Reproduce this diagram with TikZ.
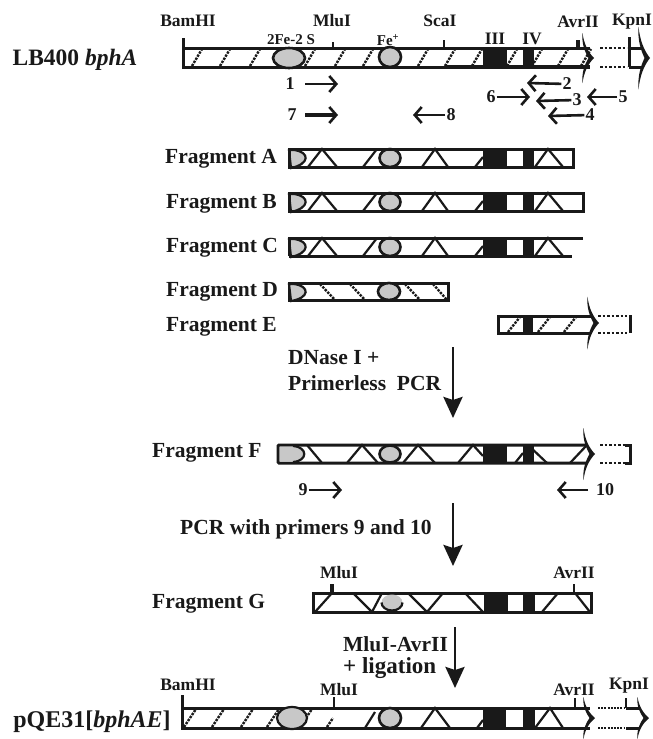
\documentclass[tikz,border=0pt]{standalone}
\usepackage{fontspec}
\setmainfont{Liberation Serif}
\usetikzlibrary{arrows.meta,positioning}
\definecolor{hemegray}{RGB}{200,200,200}
\definecolor{inkblack}{RGB}{25,25,25}
\tikzset{
  genetip/.pic={
    \fill[inkblack] (-2.5,-25) .. controls (-1,-14) and (3,-6) .. (9,0)
      .. controls (3,6) and (-1,14) .. (-2.5,25)
      .. controls (-3.5,14) and (0,6) .. (3.5,0)
      .. controls (0,-6) and (-3.5,-14) .. (-2.5,-25) -- cycle;
  }
}
\begin{document}
\begin{tikzpicture}[
    x=1pt, y=-1pt,
    fragname/.style={font=\fontsize{21.5}{23}\selectfont\bfseries, text=inkblack, inner sep=0pt},
    sitename/.style={font=\fontsize{17.5}{19}\selectfont\bfseries, text=inkblack, inner sep=0pt},
    stepname/.style={font=\fontsize{21.5}{23}\selectfont\bfseries, text=inkblack, inner sep=0pt},
    num/.style={font=\fontsize{18}{20}\selectfont\bfseries, text=inkblack, inner sep=1pt},
    barline/.style={line width=3pt, inkblack},
    site/.style={line width=2.2pt, inkblack},
    stroke/.style={line width=2.2pt, inkblack},
    hatch/.style={line width=2.4pt, inkblack, dash pattern=on 2.4pt off 1.2pt},
    dots/.style={line width=2.6pt, inkblack, dash pattern=on 2.5pt off 2pt},
    primer/.style={-{Straight Barb[length=7pt,width=16pt,line width=2.6pt]}, line width=2.6pt, inkblack},
    bigarrow/.style={-{Stealth[length=21pt,width=19pt,inset=3pt]}, line width=2.8pt, inkblack}
  ]
    \useasboundingbox (0,0) rectangle (653,739);

    % LB400 bphA
    \node[font=\fontsize{23.5}{25}\selectfont\bfseries, text=inkblack, inner sep=0pt] (lb) at (75,60) {LB400 \textit{bphA}};
    \foreach \x in {197,225,255,310,340,368,423,450,477,512,537,563,586}
      \draw[hatch] (\x-5,66) -- (\x+5,49);
    \draw[barline] (183,38) -- (183,67) -- (445,67);
    \draw[line width=3.8pt, inkblack] (445,67) -- (590,67);
    \draw[barline] (183,48) -- (590,48);
    \fill[inkblack] (483,48) rectangle (507,67);
    \fill[inkblack] (523,48) rectangle (534,67);
    \draw[stroke, fill=hemegray, line width=2.6pt] (289,58) ellipse (16 and 10);
    \draw[stroke, fill=hemegray, line width=2.6pt] (390,57) ellipse (11 and 10);
    \draw[site] (333,42) -- (333,48);
    \draw[site] (444,40) -- (444,48);
    \draw[line width=3.6pt, inkblack] (578,40) -- (578,48);
    \pic at (585,58) {genetip};
    \draw[dots] (600,48) -- (627,48);
    \draw[dots] (600,67) -- (627,67);
    \draw[barline] (629,37) -- (629,67);
    \draw[barline] (629,48) -- (642,48);
    \draw[barline] (629,67) -- (642,67);
    \pic[yscale=1.25] at (641,58) {genetip};

    \node[sitename] (bam) at (188,21) {BamHI};
    \node[sitename] (mlu) at (332,21) {MluI};
    \node[sitename] (sca) at (440,21) {ScaI};
    \node[sitename] (avr) at (578,22) {AvrII};
    \node[sitename] (kpn) at (632,22) {KpnI};
    \node[font=\fontsize{15}{17}\selectfont\bfseries, text=inkblack, inner sep=0pt] (fes) at (291,40) {2Fe-2 S};
    \node[font=\fontsize{15}{17}\selectfont\bfseries, text=inkblack, inner sep=0pt] (fe) at (388,40) {Fe\textsuperscript{+}};
    \node[sitename] (iii) at (495,39) {III};
    \node[sitename] (iv) at (532,39) {IV};

    % Primers
    \node[num] (n1) at (290,84) {1};
    \coordinate (a1) at (338,84);
    \draw[primer] (n1) ++(15,0) -- (a1);
    \node[num] (n7) at (292,115) {7};
    \coordinate (a7) at (338,115);
    \draw[primer, line width=3.2pt] (n7) ++(13,0) -- (a7);
    \node[num] (n8) at (451,115) {8};
    \coordinate (a8) at (413,115);
    \draw[primer] (n8) -- (a8);
    \node[num] (n2) at (567,84) {2};
    \coordinate (a2) at (527,83);
    \draw[primer] (n2) -- (a2);
    \node[num] (n6) at (491,97) {6};
    \coordinate (a6) at (530,97);
    \draw[primer] (n6) -- (a6);
    \node[num] (n3) at (577,100) {3};
    \coordinate (a3) at (536,101);
    \draw[primer] (n3) -- (a3);
    \node[num] (n5) at (623,97) {5};
    \coordinate (a5) at (587,97);
    \draw[primer] (n5) -- (a5);
    \node[num] (n4) at (590,115) {4};
    \coordinate (a4) at (548,116);
    \draw[primer] (n4) -- (a4);

    % Fragments A, B, C
    \node[fragname, anchor=west] (fa) at (165,159) {Fragment A};
    \node[fragname, anchor=west] (fb) at (166,204) {Fragment B};
    \node[fragname, anchor=west] (fc) at (166,248) {Fragment C};
    \foreach \t in {149,193,238} {
      \begin{scope}[shift={(0,\t)}]
        \fill[inkblack] (483,0) rectangle (507,18);
        \fill[inkblack] (523,0) rectangle (534,18);
        \draw[stroke, fill=hemegray] (289,1) -- (294,1) .. controls (310,3) and (310,15) .. (291,19) -- cycle;
        \draw[stroke] (308,18) -- (322,0) -- (337,18);
        \draw[stroke] (363,18) -- (377,0);
        \draw[stroke] (422,18) -- (435,0) -- (448,18);
        \draw[stroke] (475,18) -- (483,8);
        \draw[stroke] (535,18) -- (548,0) -- (563,18);
        \draw[stroke, fill=hemegray, line width=2.6pt] (390,9) ellipse (10.5 and 9);
      \end{scope}
    }
    \draw[barline] (289,149) rectangle (573,167);
    \draw[barline] (289,193) rectangle (583,211);
    \draw[barline] (289,256) -- (289,238) -- (583,238);
    \draw[barline] (289,256) -- (572,256);

    % Fragment D
    \node[fragname, anchor=west] (fd) at (166,292) {Fragment D};
    \foreach \a/\b in {320/335,350/365,405/420,433/447}
      \draw[hatch] (\a,284) -- (\b,300);
    \draw[barline] (289,283) rectangle (448,300);
    \draw[stroke, fill=hemegray] (289,284) -- (294,284) .. controls (310,286) and (310,298) .. (291,301) -- cycle;
    \draw[stroke, fill=hemegray, line width=2.6pt] (389,291.5) ellipse (11 and 8.5);

    % Fragment E
    \node[fragname, anchor=west] (fe2) at (166,327) {Fragment E};
    \foreach \x in {514,544,570}
      \draw[hatch] (\x-6,332) -- (\x+6,317);
    \draw[barline] (591,316) -- (498,316) -- (498,333) -- (591,333);
    \fill[inkblack] (523,316) rectangle (533,333);
    \pic[yscale=1.05] at (590,323) {genetip};
    \draw[dots] (598,316) -- (627,316);
    \draw[dots] (598,333) -- (627,333);
    \draw[barline] (630,315) -- (630,333);

    % Step 1
    \node[stepname, anchor=west] (dnase) at (288,358) {DNase I +};
    \node[stepname, anchor=west] (pless) at (288,383) {Primerless\ \ PCR};
    \coordinate (s1) at (453,347);
    \coordinate (e1) at (453,418);
    \draw[bigarrow] (s1) -- (e1);

    % Fragment F
    \node[fragname, anchor=west] (ff) at (152,453) {Fragment F};
    \draw[barline, rounded corners=1pt] (587,445) -- (278,445) -- (278,463) -- (587,463);
    \fill[hemegray] (279.5,446.5) -- (293,446.5) .. controls (308,447) and (308,461) .. (293,461.5) -- (279.5,461.5) -- cycle;
    \draw[stroke] (293,446) .. controls (308,447) and (308,461) .. (293,462);
    \fill[inkblack] (483,445) rectangle (507,463);
    \fill[inkblack] (523,445) rectangle (534,463);
    \foreach \a/\b/\c in {347/362/378,403/418/435}
      \draw[stroke] (\a,463) -- (\b,445) -- (\c,463);
    \draw[stroke] (307,445) -- (322,463);
    \draw[stroke] (458,463) -- (473,445) -- (483,456);
    \draw[stroke] (515,463) -- (523,453);
    \draw[stroke] (528,445) -- (547,463);
    \draw[stroke] (570,463) -- (587,445);
    \draw[stroke, fill=hemegray, line width=2.6pt] (390,454) ellipse (10.5 and 8.5);
    \pic[yscale=1.04] at (586,454) {genetip};
    \draw[dots] (600,445) -- (627,445);
    \draw[dots] (600,463) -- (627,463);
    \draw[barline] (625,445) -- (630,445) -- (630,463) -- (625,463);

    \node[num] (n9) at (303,490) {9};
    \coordinate (a9) at (342,490);
    \draw[primer] (n9) -- (a9);
    \node[num] (n10) at (605,490) {10};
    \coordinate (a10) at (557,490);
    \draw[primer] (n10) ++(-17,0) -- (a10);

    % Step 2
    \node[stepname, anchor=west] (pcr) at (180,529) {PCR with primers 9 and 10};
    \coordinate (s2) at (453,503);
    \coordinate (e2) at (453,566);
    \draw[bigarrow] (s2) -- (e2);

    % Fragment G
    \node[fragname, anchor=west] (fg) at (152,604) {Fragment G};
    \foreach \a/\b/\c in {353/372/382,408/427/443}
      \draw[stroke] (\a,593) -- (\b,612) -- (\c,593);
    \draw[stroke] (315,612) -- (332,593);
    \draw[stroke] (465,593) -- (483,612);
    \draw[stroke] (542,612) -- (558,593);
    \draw[stroke] (575,593) -- (590,612);
    \fill[inkblack] (484,593) rectangle (508,612);
    \fill[inkblack] (523,593) rectangle (535,612);
    \draw[barline] (313,593) rectangle (591,612);
    \fill[hemegray] (392,602.5) ellipse (10.5 and 8);
    \draw[stroke] (381.5,602.5) arc (180:0:10.5 and 8);
    \draw[line width=3.2pt, inkblack] (332,584) -- (332,593);
    \draw[site] (574,584) -- (574,593);
    \node[sitename] (mlug) at (339,573) {MluI};
    \node[sitename] (avrg) at (574,573) {AvrII};

    % Step 3
    \node[stepname, anchor=west] (mlav) at (343,644) {MluI-AvrII};
    \node[stepname, font=\fontsize{23}{25}\selectfont\bfseries, anchor=west] (lig) at (343,668) {+ ligation};
    \coordinate (s3) at (455,627);
    \coordinate (e3) at (455,688);
    \draw[bigarrow] (s3) -- (e3);

    % pQE31[bphAE]
    \node[font=\fontsize{24}{26}\selectfont\bfseries, text=inkblack, inner sep=0pt] (pqe) at (92,722) {pQE31[\textit{bphAE}]};
    \foreach \x in {190,218,247,273,306}
      \draw[hatch] (\x-6,727) -- (\x+6,709);
    \draw[hatch] (327,727) -- (333,718);
    \fill[inkblack] (483,708) rectangle (506,728);
    \fill[inkblack] (523,708) rectangle (535,728);
    \draw[stroke] (365,728) -- (375,712);
    \draw[stroke] (421,728) -- (435,708) -- (450,728);
    \draw[stroke] (477,728) -- (483,720);
    \draw[stroke] (535,728) -- (550,708) -- (563,728);
    \draw[barline] (182,695) -- (182,728) -- (590,728);
    \draw[barline] (182,708) -- (590,708);
    \draw[stroke, fill=hemegray] (292,718) ellipse (15 and 11);
    \draw[stroke, fill=hemegray, line width=2.6pt] (390,718) ellipse (11 and 10);
    \draw[site] (334,697) -- (334,708);
    \draw[site] (575,698) -- (575,708);
    \pic[yscale=.84] at (586,718) {genetip};
    \draw[line width=2pt, inkblack, dash pattern=on 2pt off 1.2pt] (598,708) -- (625,708);
    \draw[line width=2pt, inkblack, dash pattern=on 2pt off 1.2pt] (598,728) -- (625,728);
    \draw[site] (626,698) -- (626,708);
    \draw[barline] (626,708) -- (640,708);
    \draw[barline] (626,728) -- (640,728);
    \pic[yscale=.84] at (640,718) {genetip};
    \node[sitename] (bamq) at (188,685) {BamHI};
    \node[sitename] (mluq) at (339,690) {MluI};
    \node[sitename] (avrq) at (574,690) {AvrII};
    \node[sitename] (kpnq) at (629,686) {KpnI};
  \end{tikzpicture}
\end{document}
